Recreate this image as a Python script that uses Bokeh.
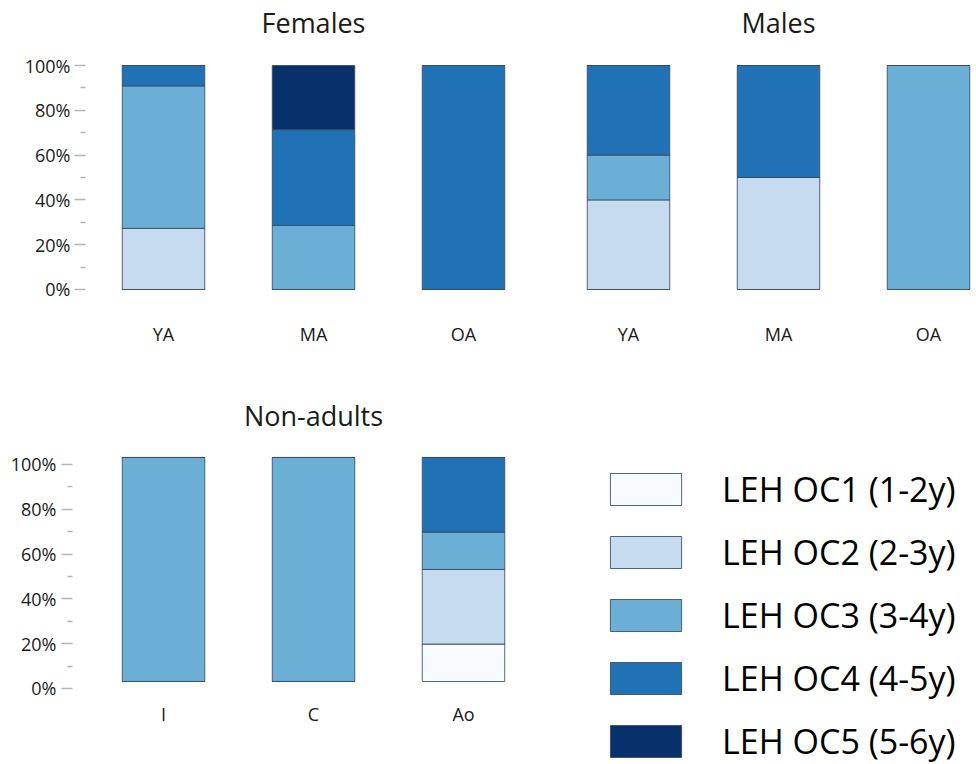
from bokeh.plotting import figure
from bokeh.models import (Range1d, LinearAxis, FixedTicker, PrintfTickFormatter, ColumnDataSource,
                          Label, Legend, LegendItem)
from bokeh.layouts import column, row
from bokeh.embed import file_html
from bokeh.resources import INLINE

# ---------------- data ----------------
stage_keys = ["OC1", "OC2", "OC3", "OC4", "OC5"]
stage_names = ["LEH OC1 (1-2y)", "LEH OC2 (2-3y)", "LEH OC3 (3-4y)", "LEH OC4 (4-5y)", "LEH OC5 (5-6y)"]
stage_colors = ["#f7fbff", "#c6dbef", "#6baed6", "#2171b5", "#08306b"]

females_groups = ["YA", "MA", "OA"]
females_oc1 = [0.0, 0.0, 0.0]
females_oc2 = [27.3, 0.0, 0.0]
females_oc3 = [63.6, 28.6, 0.0]
females_oc4 = [9.1, 42.8, 100.0]
females_oc5 = [0.0, 28.6, 0.0]

males_groups = ["YA", "MA", "OA"]
males_oc1 = [0.0, 0.0, 0.0]
males_oc2 = [40.0, 50.0, 0.0]
males_oc3 = [20.0, 0.0, 100.0]
males_oc4 = [40.0, 50.0, 0.0]
males_oc5 = [0.0, 0.0, 0.0]

nonadult_groups = ["I", "C", "Ao"]
nonadult_oc1 = [0.0, 0.0, 16.7]
nonadult_oc2 = [0.0, 0.0, 33.3]
nonadult_oc3 = [100.0, 100.0, 16.7]
nonadult_oc4 = [0.0, 0.0, 33.3]
nonadult_oc5 = [0.0, 0.0, 0.0]

y_ticks = [0, 20, 40, 60, 80, 100]
y_minor_ticks = [10, 30, 50, 70, 90]

FONT = "Open Sans"
TEXT = "#1a1a1a"
OUTLINE = "#3a4a60"


def style_yaxis(ax, standoff):
    ax.ticker = FixedTicker(ticks=y_ticks, minor_ticks=y_minor_ticks)
    ax.formatter = PrintfTickFormatter(format="%d%%")
    ax.axis_line_color = None
    ax.major_tick_line_color = "#b5b5b5"
    ax.minor_tick_line_color = "#b5b5b5"
    ax.major_tick_line_width = 1.5
    ax.minor_tick_line_width = 1.5
    ax.major_tick_out = 11
    ax.major_tick_in = 0
    ax.minor_tick_out = 5
    ax.minor_tick_in = 0
    ax.major_label_standoff = standoff
    ax.major_label_text_font = FONT
    ax.major_label_text_font_size = "18px"
    ax.major_label_text_color = TEXT


def panel(title, groups, cols, width, height, borders, x_start, y_range, label_standoff,
          title_y, yaxis=True, axis_range=None, y_standoff=4, x_fixed=None):
    bl, br, bt, bb = borders
    frame_w = width - bl - br
    p = figure(width=width, height=height, output_backend="svg", toolbar_location=None,
               x_range=Range1d(x_start, x_start + frame_w / 150.0), y_range=y_range,
               min_border_left=bl, min_border_right=br, min_border_top=bt, min_border_bottom=bb,
               y_axis_location=None)
    p.outline_line_color = None
    p.xgrid.visible = False
    p.ygrid.visible = False
    p.background_fill_color = "white"
    p.border_fill_color = "white"

    data = {"x": list(range(len(groups)))}
    for k, v in zip(stage_keys, cols):
        data[k] = v
    src = ColumnDataSource(data)
    rs = p.vbar_stack(stage_keys, x="x", width=0.55, source=src, color=stage_colors,
                      line_color=OUTLINE, line_width=1, line_alpha=0.85)

    xa = p.xaxis[0]
    xa.ticker = FixedTicker(ticks=list(range(len(groups))))
    xa.major_label_overrides = {i: g for i, g in enumerate(groups)}
    xa.axis_line_color = None
    xa.major_tick_line_color = None
    xa.minor_tick_line_color = None
    xa.major_tick_out = 0
    xa.major_tick_in = 0
    xa.major_label_standoff = label_standoff
    xa.major_label_text_font = FONT
    xa.major_label_text_font_size = "18px"
    xa.major_label_text_color = TEXT
    if x_fixed is not None:
        xa.fixed_location = x_fixed

    if yaxis:
        if axis_range is not None:
            p.extra_y_ranges = {"axis": axis_range}
            ya = LinearAxis(y_range_name="axis")
        else:
            ya = LinearAxis()
        style_yaxis(ya, y_standoff)
        p.add_layout(ya, "left")

    p.add_layout(Label(x=(len(groups) - 1) / 2.0, y=title_y, x_units="data", y_units="screen",
                       text=title, text_align="center", text_baseline="middle",
                       text_font=FONT, text_font_size="27px", text_color=TEXT))
    return p, rs


p_f, _ = panel("Females", females_groups,
               [females_oc1, females_oc2, females_oc3, females_oc4, females_oc5],
               545, 380, (85, 7, 0, 89), -0.52, Range1d(-0.893, 129.018), 30, 269)

p_m, _ = panel("Males", males_groups,
               [males_oc1, males_oc2, males_oc3, males_oc4, males_oc5],
               431, 380, (8, 0, 0, 89), -0.5, Range1d(-0.893, 129.018), 30, 269,
               yaxis=False)

p_n, rs_n = panel("Non-adults", nonadult_groups,
                  [nonadult_oc1, nonadult_oc2, nonadult_oc3, nonadult_oc4, nonadult_oc5],
                  976, 384, (72, 0, 0, 0), -0.6067, Range1d(-37.054, 134.375), 21, 349,
                  axis_range=Range1d(-33.929, 137.5), y_standoff=5, x_fixed=0)

legend = Legend(items=[LegendItem(label=n, renderers=[r]) for n, r in zip(stage_names, rs_n)])
legend.location = (529, 0)
legend.margin = 0
legend.padding = 0
legend.border_line_color = None
legend.background_fill_alpha = 0
legend.glyph_width = 89
legend.glyph_height = 40
legend.label_standoff = 32
legend.spacing = 17
legend.label_text_font = FONT
legend.label_text_font_size = "34px"
legend.label_text_color = "#000000"
p_n.add_layout(legend)

layout = column(row(p_f, p_m), p_n)

open("out.html", "w").write(file_html(layout, INLINE))
